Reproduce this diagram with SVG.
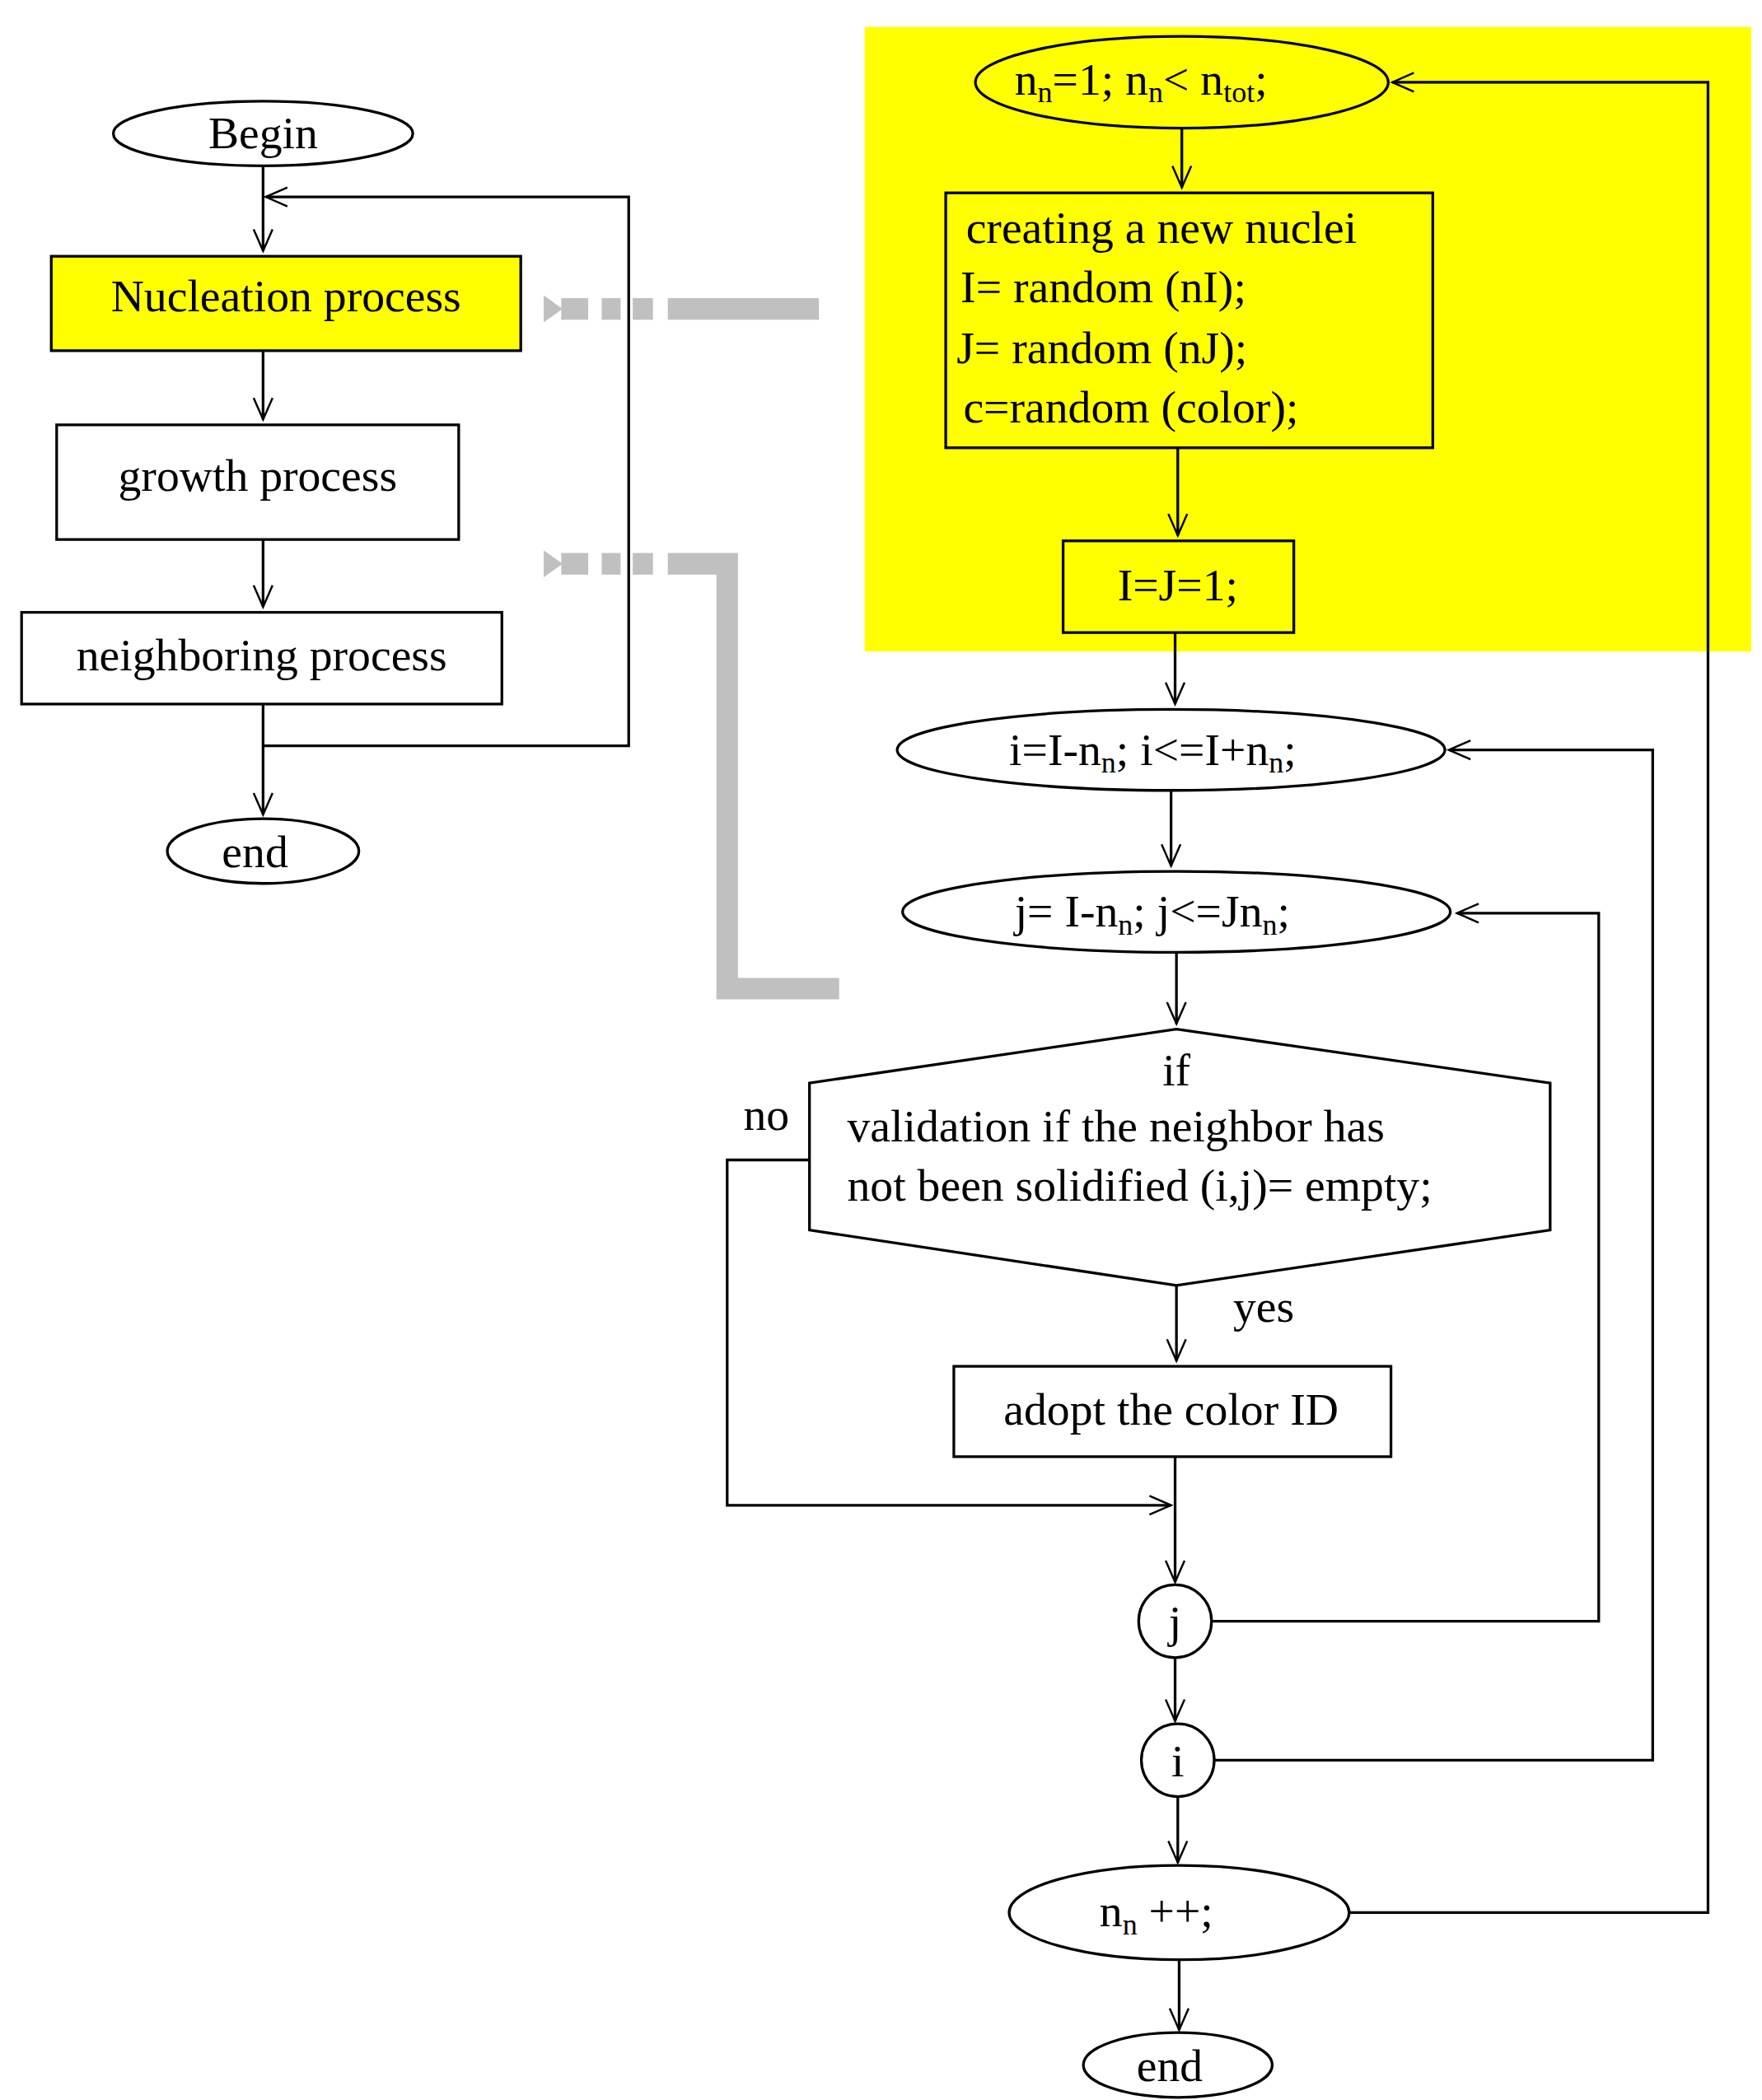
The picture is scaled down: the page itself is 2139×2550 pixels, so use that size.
<svg xmlns="http://www.w3.org/2000/svg" width="2139" height="2550" viewBox="0 0 2139 2550">
<style>
.s{fill:none;stroke:#000;stroke-width:2}
.b{fill:#fff;stroke:#000;stroke-width:2}
.y{fill:#ffff00;stroke:#000;stroke-width:2}
text{font-family:"Liberation Serif",serif;font-size:34px;fill:#000}
.m{text-anchor:middle}
.g{fill:none;stroke:#c0c0c0;stroke-width:16}
</style>
<defs>
<marker id="a" markerWidth="20" markerHeight="20" refX="18" refY="8" orient="auto" markerUnits="userSpaceOnUse"><path d="M2,1 L18,8 L2,15" fill="none" stroke="#000" stroke-width="1.5"/></marker>
<marker id="ga" markerWidth="14" markerHeight="20" refX="1" refY="10" orient="auto" markerUnits="userSpaceOnUse"><path d="M14,0 L0,10 L14,20 Z" fill="#c0c0c0"/></marker>
</defs>
<rect width="2139" height="2550" fill="#fff"/>
<g transform="scale(1.6378)">
<rect x="641" y="20" width="657" height="463" fill="#ffff00"/>
<g id="connectors">
<path class="s" d="M195,123 V186" marker-end="url(#a)"/>
<path class="s" d="M195,260 V311" marker-end="url(#a)"/>
<path class="s" d="M195,400 V450" marker-end="url(#a)"/>
<path class="s" d="M195,522 V604" marker-end="url(#a)"/>
<path class="s" d="M195,553 H466 V146 H197" marker-end="url(#a)"/>
<path class="s" d="M876,95 V139" marker-end="url(#a)"/>
<path class="s" d="M873,332 V397" marker-end="url(#a)"/>
<path class="s" d="M871,469 V522" marker-end="url(#a)"/>
<path class="s" d="M868,586 V642" marker-end="url(#a)"/>
<path class="s" d="M872,706 V759" marker-end="url(#a)"/>
<path class="s" d="M872,953 V1009" marker-end="url(#a)"/>
<path class="s" d="M871,1080 V1173" marker-end="url(#a)"/>
<path class="s" d="M871,1229 V1276" marker-end="url(#a)"/>
<path class="s" d="M873,1332 V1381" marker-end="url(#a)"/>
<path class="s" d="M874,1453 V1505" marker-end="url(#a)"/>
<path class="s" d="M600,860 H539 V1116 H868" marker-end="url(#a)"/>
<path class="s" d="M898,1202 H1185 V677 H1080" marker-end="url(#a)"/>
<path class="s" d="M900,1305 H1225 V556 H1074" marker-end="url(#a)"/>
<path class="s" d="M1000,1418 H1266 V61 H1032" marker-end="url(#a)"/>
<path class="g" d="M607,229 H495 M484,229 H469 M460,229 H446 M436,229 H416" marker-end="url(#ga)"/>
<path class="g" d="M622,733 H539 V418 H495 M484,418 H469 M460,418 H446 M436,418 H416" marker-end="url(#ga)"/>
</g>
<g id="begin"><ellipse class="b" cx="195" cy="99" rx="111" ry="24"/><text class="m" x="195" y="110">Begin</text></g>
<g id="nucleation"><rect class="y" x="38" y="190" width="348" height="70"/><text class="m" x="212" y="231">Nucleation process</text></g>
<g id="growth"><rect class="b" x="42" y="315" width="298" height="85"/><text class="m" x="191" y="364">growth process</text></g>
<g id="neighboring"><rect class="b" x="16" y="454" width="356" height="68"/><text class="m" x="194" y="497">neighboring process</text></g>
<g id="end1"><ellipse class="b" cx="195" cy="631" rx="71" ry="24"/><text class="m" x="189" y="643">end</text></g>
<g id="loopn"><ellipse class="y" cx="876" cy="61" rx="153" ry="34"/><text x="752" y="70">n<tspan font-size="22" dy="6">n</tspan><tspan dy="-6">=1;   n</tspan><tspan font-size="22" dy="6">n</tspan><tspan dy="-6">&lt; n</tspan><tspan font-size="22" dy="6">tot</tspan><tspan dy="-6">;</tspan></text></g>
<g id="creating"><rect class="y" x="701" y="143" width="361" height="189"/>
<text x="716" y="180">creating a new nuclei</text><text x="712" y="224">I= random (nI);</text><text x="709" y="269">J= random (nJ);</text><text x="714" y="313">c=random (color);</text></g>
<g id="ij"><rect class="y" x="788" y="401" width="171" height="68"/><text class="m" x="873" y="445">I=J=1;</text></g>
<g id="loopi"><ellipse class="b" cx="868" cy="556" rx="203" ry="30"/><text x="748" y="567">i=I-n<tspan font-size="22" dy="6">n</tspan><tspan dy="-6">; i&lt;=I+n</tspan><tspan font-size="22" dy="6">n</tspan><tspan dy="-6">;</tspan></text></g>
<g id="loopj"><ellipse class="b" cx="872" cy="676" rx="203" ry="30"/><text x="752" y="687">j= I-n<tspan font-size="22" dy="6">n</tspan><tspan dy="-6">;  j&lt;=Jn</tspan><tspan font-size="22" dy="6">n</tspan><tspan dy="-6">;</tspan></text></g>
<g id="decision"><polygon class="b" points="600,803 872,763 1149,803 1149,912 872,953 600,912"/>
<text class="m" x="872" y="805">if</text><text x="628" y="846">validation if the neighbor has</text><text x="628" y="890">not been solidified (i,j)= empty;</text>
<text x="551" y="838">no</text><text x="914" y="980">yes</text></g>
<g id="adopt"><rect class="b" x="707" y="1013" width="324" height="67"/><text class="m" x="868" y="1056">adopt the color ID</text></g>
<g id="cj"><circle class="b" cx="871" cy="1202" r="27"/><text class="m" x="871" y="1214">j</text></g>
<g id="ci"><circle class="b" cx="873" cy="1305" r="27"/><text class="m" x="873" y="1317">i</text></g>
<g id="inc"><ellipse class="b" cx="874" cy="1418" rx="126" ry="35"/><text x="815" y="1428">n<tspan font-size="22" dy="6">n</tspan><tspan dy="-6"> ++;</tspan></text></g>
<g id="end2"><ellipse class="b" cx="873" cy="1531" rx="70" ry="24"/><text class="m" x="867" y="1543">end</text></g>
</g>
</svg>
